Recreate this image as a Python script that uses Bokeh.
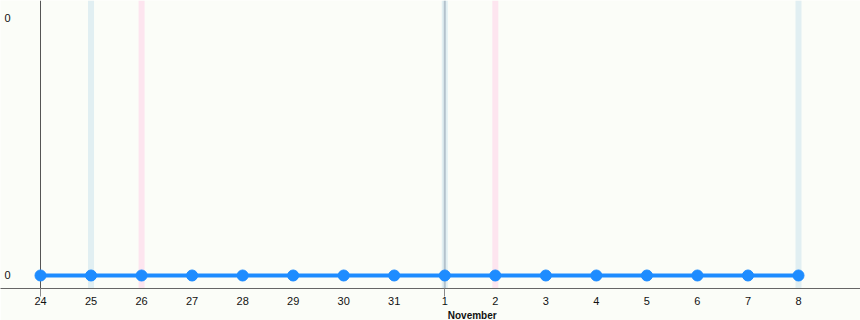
import pandas as pd
from bokeh.plotting import figure
from bokeh.models import Span, Title, FixedTicker, Range1d
from bokeh.core.properties import value
from bokeh.embed import file_html
from bokeh.resources import INLINE

# ---- data ----
dates = ["2025-10-24", "2025-10-25", "2025-10-26", "2025-10-27", "2025-10-28",
         "2025-10-29", "2025-10-30", "2025-10-31", "2025-11-01", "2025-11-02",
         "2025-11-03", "2025-11-04", "2025-11-05", "2025-11-06", "2025-11-07",
         "2025-11-08"]
values = [0, 0, 0, 0, 0, 0, 0, 0, 0, 0, 0, 0, 0, 0, 0, 0]
day_labels = ["24", "25", "26", "27", "28", "29", "30", "31",
              "1", "2", "3", "4", "5", "6", "7", "8"]
saturdays = ["2025-10-25", "2025-11-01", "2025-11-08"]
sundays = ["2025-10-26", "2025-11-02"]
month_starts = ["2025-11-01"]
month_names = ["November"]
y_ticks = [0, 1]
y_tick_labels = ["0", "0"]

# ---- helpers ----
t0 = pd.Timestamp(dates[0])
def day(d):
    return (pd.Timestamp(d) - t0).days

xs = [day(d) for d in dates]

W, H = 860, 320
left_px = 40
ppd = 758 / 15.0  # pixels per day
x_range = Range1d(-left_px / ppd, (W - left_px) / ppd)
y_range = Range1d(-0.0504, 1.066)

p = figure(width=W, height=H, x_range=x_range, y_range=y_range,
           output_backend="svg", toolbar_location=None,
           y_axis_location=None,
           min_border_left=0, min_border_right=0, min_border_top=0,
           min_border_bottom=32)
p.background_fill_color = "#fbfdf8"
p.border_fill_color = "#fbfdf8"
p.outline_line_color = None
p.grid.visible = False

for d in saturdays:
    p.add_layout(Span(location=day(d), dimension="height", line_color="#e1eff2",
                      line_width=6, level="underlay"))
for d in sundays:
    p.add_layout(Span(location=day(d), dimension="height", line_color="#fde5ef",
                      line_width=6, level="underlay"))
for d in month_starts:
    p.add_layout(Span(location=day(d), dimension="height", line_color="#b3c2cc",
                      line_width=2, level="underlay"))
# y axis line
p.add_layout(Span(location=0, dimension="height", line_color="#555555",
                  line_width=1, level="underlay"))

p.line(xs, values, line_color="#1e8cff", line_width=4)
p.scatter(xs, values, size=11, fill_color="#1e8cff", line_color="#1e8cff")

# y labels
p.text(x=[0] * len(y_ticks), y=y_ticks, text=y_tick_labels, x_offset=-36,
       text_align="left", text_baseline="middle",
       text_font=value("Liberation Sans"), text_font_size="11px",
       text_color="#111111")

ax = p.xaxis[0]
ax.ticker = FixedTicker(ticks=xs, minor_ticks=[0] + [day(d) for d in month_starts])
ax.major_label_overrides = {x: l for x, l in zip(xs, day_labels)}
ax.major_tick_out = 0
ax.major_tick_in = 0
ax.minor_tick_out = 8
ax.minor_tick_in = 0
ax.minor_tick_line_color = "#8a8a8a"
ax.axis_line_color = "#666666"
ax.major_label_standoff = 0
ax.major_label_text_font = "Liberation Sans"
ax.major_label_text_font_size = "11px"
ax.major_label_text_color = "#111111"

for d, name in zip(month_starts, month_names):
    p.add_layout(Title(text=name, align="left", offset=left_px + day(d) * ppd + 3,
                       standoff=0, text_font="Liberation Sans",
                       text_font_size="10px", text_font_style="bold",
                       text_color="#111111", text_line_height=0.6), "below")

open("out.html", "w").write(file_html(p, INLINE))
